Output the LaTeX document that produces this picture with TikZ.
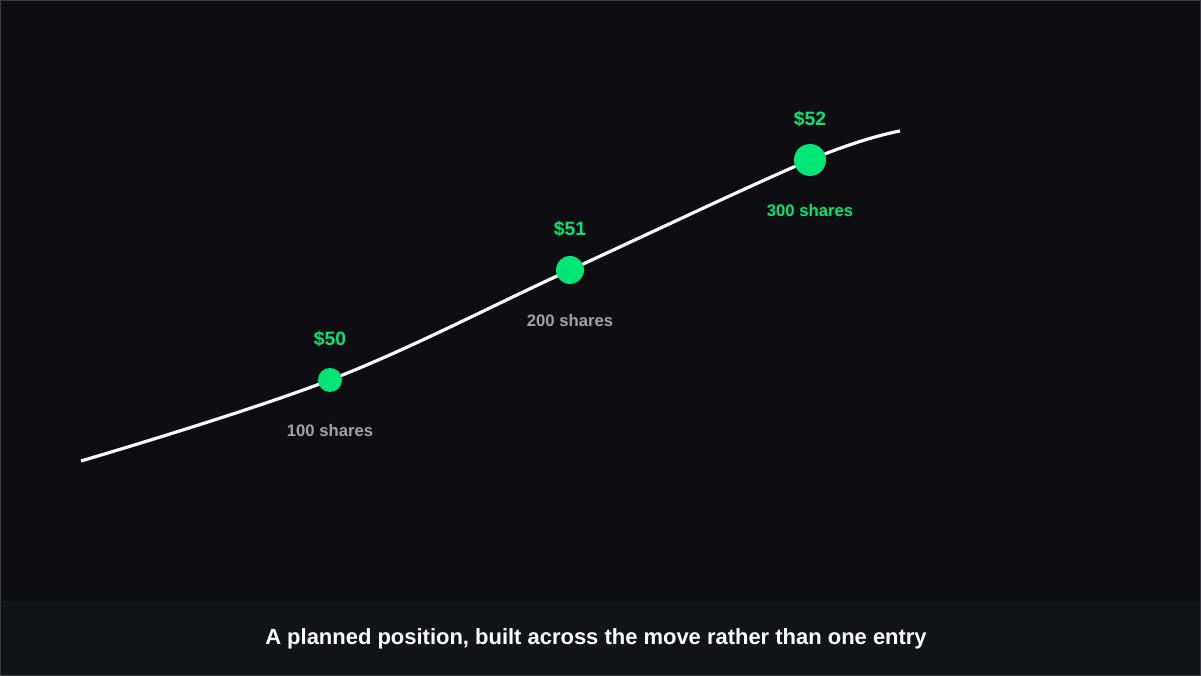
\documentclass[tikz,border=0pt]{standalone}
\usepackage{fontspec}
\setmainfont{Liberation Sans}
\definecolor{bgdark}{HTML}{0E0E12}
\definecolor{bandbg}{HTML}{131418}
\definecolor{edgegray}{HTML}{3A3A40}
\definecolor{buygreen}{HTML}{00E676}
\definecolor{mutedgray}{HTML}{A0A0A8}
\begin{document}
\begin{tikzpicture}[x=0.02cm,y=-0.02cm,
  entry/.style={circle,fill=buygreen,inner sep=0pt},
  price/.style={text=buygreen,font=\bfseries\fontsize{11}{13}\selectfont},
  qty/.style={text=mutedgray,font=\bfseries\fontsize{9.5}{11}\selectfont}]
  \useasboundingbox (0,0) rectangle (1201,676);
  \fill[bgdark] (0,0) rectangle (1201,676);
  \fill[bandbg] (0,601) rectangle (1201,676);
  \draw[edgegray] (0.5,0.5) rectangle (1200.5,675.5);
  \coordinate (start) at (81,461);
  \coordinate (stop) at (900,131);
  % price path
  \draw[white,line width=1.8pt] plot[smooth,tension=0.6] coordinates {(81,461) (330,380) (570,270) (810,160) (900,131)};
  \node[entry,minimum size=24\pgflinewidth*0+0.48cm] (e1) at (330,380) {};
  \node[entry,minimum size=0.56cm] (e2) at (570,270) {};
  \node[entry,minimum size=0.64cm] (e3) at (810,160) {};
  \node[price] at (330,339) {\$50};
  \node[price] at (570,229) {\$51};
  \node[price] at (810,119) {\$52};
  \node[qty] at (330,431) {100 shares};
  \node[qty] at (570,321) {200 shares};
  \node[qty,text=buygreen] at (810,211) {300 shares};
  \node[text=white,font=\bfseries\fontsize{12.5}{15}\selectfont] (caption) at (596,639) {A planned position, built across the move rather than one entry};
\end{tikzpicture}
\end{document}
